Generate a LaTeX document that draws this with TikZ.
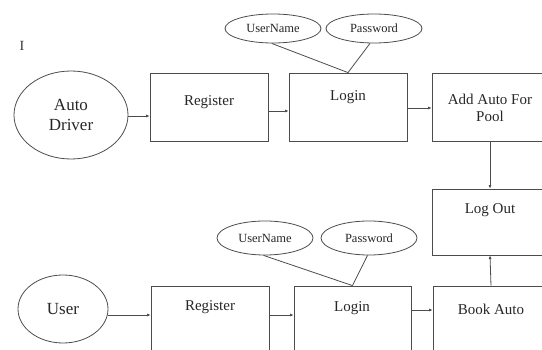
\documentclass[tikz,border=0pt]{standalone}
\usepackage{fontspec}
\setmainfont{Liberation Serif}
\usetikzlibrary{arrows.meta,shapes.geometric}
\begin{document}
\begin{tikzpicture}[x=1pt,y=-1pt,
  ln/.style={draw=black!70,line width=0.8pt},
  box/.style={ln,rectangle,minimum width=118pt,minimum height=68pt,inner sep=0pt},
  oval/.style={ln,ellipse,inner sep=0pt},
  txt/.style={text=black!85,font=\fontsize{15}{17}\selectfont,inner sep=0pt,align=center},
  small/.style={text=black!85,font=\fontsize{12.5}{14}\selectfont},
  arr/.style={ln,-{Latex[length=3.5pt,width=3pt]}}]
\useasboundingbox (0,0) rectangle (542,350);
% stray mark
\node[text=black!80,font=\fontsize{14}{14}\selectfont,inner sep=0pt] (mark) at (22,46) {I};
% top row
\node[oval,minimum width=114pt,minimum height=88pt] (ad) at (71,115) {};
\node[txt,font=\fontsize{17}{20}\selectfont] (adt) at (71,115) {Auto\\Driver};
\node[box] (reg1) at (209,107) {};
\node[txt] (reg1t) at (209,102) {Register};
\node[box] (log1) at (348,107) {};
\node[txt] (log1t) at (348,97) {Login};
\node[box,minimum width=116pt] (add) at (490,107) {};
\node[txt] (addt) at (490,107.5) {Add Auto For\\Pool};
\node[oval,minimum width=96pt,minimum height=29pt] (un1) at (273,28.5) {};
\node[small] (un1t) at (273,28.5) {UserName};
\node[oval,minimum width=96pt,minimum height=29pt] (pw1) at (374,28.5) {};
\node[small] (pw1t) at (374,28.5) {Password};
% log out
\node[box,minimum width=116pt,minimum height=66pt] (out) at (490,222) {};
\node[txt] (outt) at (490,210) {Log Out};
% bottom row
\node[oval,minimum width=90pt,minimum height=68pt] (us) at (63,309) {};
\node[txt,font=\fontsize{17}{20}\selectfont] (ust) at (63,309) {User};
\node[box] (reg2) at (210,320) {};
\node[txt] (reg2t) at (210,307) {Register};
\node[box,minimum width=117pt] (log2) at (352.5,320) {};
\node[txt] (log2t) at (352,308) {Login};
\node[box,minimum width=116pt] (book) at (491,320) {};
\node[txt] (bookt) at (491,309) {Book Auto};
\node[oval,minimum width=96pt,minimum height=34pt] (un2) at (265,238) {};
\node[small] (un2t) at (265,238) {UserName};
\node[oval,minimum width=96pt,minimum height=34pt] (pw2) at (369,238) {};
\node[small] (pw2t) at (369,238) {Password};
% attribute lines
\draw[ln] (un1.-95) -- (log1.north);
\draw[ln] (pw1.-105) -- (log1.north);
\draw[ln] (un2.-95) -- (log2.north);
\draw[ln] (pw2.-95) -- (log2.north);
% helper rows
\coordinate (ya) at (0,116);
\coordinate (yb) at (0,111);
\coordinate (yc) at (0,108);
\coordinate (yd) at (0,315);
\coordinate (ye) at (0,315);
\coordinate (yf) at (0,310);
% arrows
\draw[arr] (ad.east |- ya) -- (reg1.west |- ya);
\draw[arr] (reg1.east |- yb) -- (log1.west |- yb);
\draw[arr] (log1.east |- yc) -- (add.west |- yc);
\draw[arr] (add.south) -- (out.north);
\draw[arr] (us.east |- yd) -- (reg2.west |- yd);
\draw[arr] (reg2.east |- ye) -- (log2.west |- ye);
\draw[arr] (log2.east |- yf) -- (book.west |- yf);
\draw[arr] (book.north) -- (out.south);
\end{tikzpicture}
\end{document}
